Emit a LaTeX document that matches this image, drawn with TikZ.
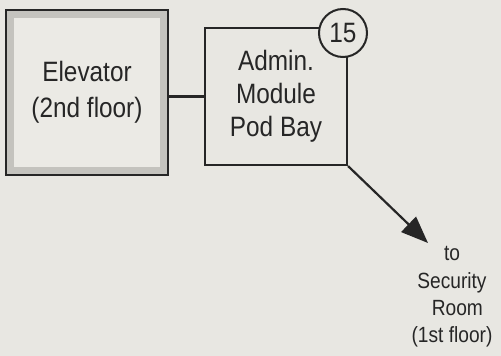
\documentclass[tikz,border=0pt]{standalone}
\usepackage{fontspec}
\setmainfont{Liberation Sans}
\newfontfamily\narrowfont[FakeStretch=0.87]{Liberation Sans}
\usetikzlibrary{arrows.meta}
\definecolor{bg}{HTML}{E8E7E2}
\definecolor{ink}{HTML}{262626}
\definecolor{stip}{HTML}{C4C3BE}
\begin{document}
\begin{tikzpicture}[x=1pt,y=-1pt,
  every node/.style={text=ink},
  roombox/.style={draw=ink,line width=2.2pt,rectangle,inner sep=0pt,align=center},
  conn/.style={draw=ink,line width=2.2pt},
  numcirc/.style={circle,draw=ink,line width=2pt,fill=bg,minimum size=48pt,inner sep=0pt},
  desttext/.style={align=center,font=\fontsize{21}{27.3}\selectfont}]
\fill[bg] (0,0) rectangle (501,356);
\useasboundingbox (0,0) rectangle (501,356);
% Elevator box with stippled band
\fill[stip] (6,10) rectangle (168,175);
\fill[bg!88!white] (14,18) rectangle (160,167);
\node[roombox,minimum width=162pt,minimum height=165pt,
  font=\narrowfont\fontsize{28}{36}\selectfont] (elev) at (87,92.5) {\raisebox{-3pt}{\parbox{150pt}{\centering Elevator\\(2nd floor)}}};
% Admin box
\node[roombox,minimum width=142pt,minimum height=137pt,fill=bg,
  font=\narrowfont\fontsize{28}{33}\selectfont] (admin) at (276,96.5) {Admin.\\Module\\Pod Bay};
\node[numcirc,font=\narrowfont\fontsize{28}{30}\selectfont] (num) at (343,33) {15};
% connectors
\draw[conn] (admin.west) -- (admin.west -| elev.east);
\coordinate (tip) at (428,243);
\draw[conn,-{Triangle[length=27pt,width=21pt]}] (admin.south east) -- (tip);
\node[desttext,font=\narrowfont\fontsize{22}{27.3}\selectfont] (dest) at (452,297) {to\\Security\\\ \ Room\\(1st floor)};
\end{tikzpicture}
\end{document}
